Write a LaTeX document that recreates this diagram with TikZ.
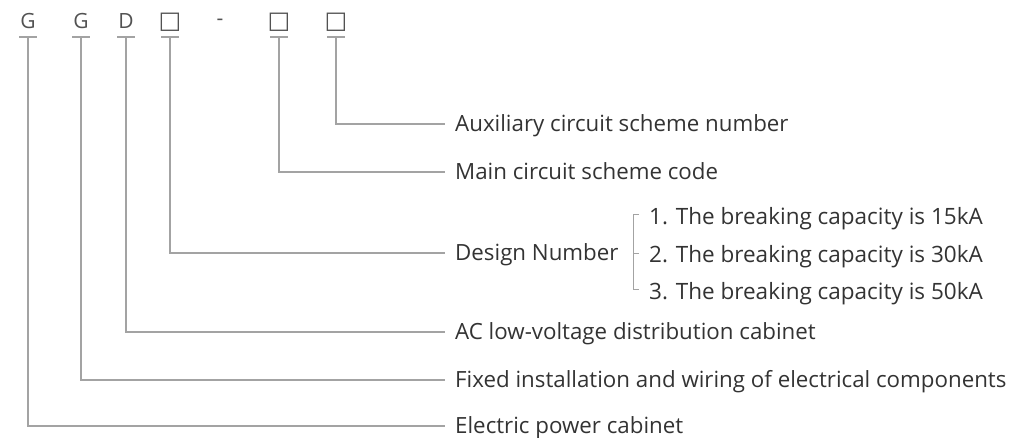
\documentclass[tikz,border=0pt]{standalone}
\usepackage{fontspec}
\setmainfont{Open Sans}
\newfontfamily\symfont{DejaVu Sans}
\definecolor{txt}{HTML}{333333}
\definecolor{lin}{HTML}{A3A3A3}
\begin{document}
\begin{tikzpicture}[x=1pt,y=-1pt,
  code/.style={font=\fontsize{21}{21}\selectfont, text=txt!85, inner sep=0pt},
  boxcode/.style={font=\symfont\fontsize{24}{24}\selectfont, text=txt!85, inner sep=0pt},
  lab/.style={font=\fontsize{22.3}{22.3}\selectfont, text=txt, anchor=west, inner xsep=10pt, inner ysep=0pt, text height=15.9pt, text depth=0pt},
  item/.style={font=\fontsize{22.5}{22.5}\selectfont, text=txt, anchor=west, inner xsep=0pt, inner ysep=0pt, text height=16pt, text depth=0pt},
  conn/.style={draw=lin, line width=1.1pt},
]
\useasboundingbox (0,0) rectangle (1014,438);
% code letters
\node[code] (c1) at (28,21.5) {G};
\node[code] (c2) at (81,21.5) {G};
\node[code] (c3) at (126,21.5) {D};
\node[boxcode] (c4) at (170,22) {□};
\node[code] (cd) at (220,22) {-};
\node[boxcode] (c5) at (279,22) {□};
\node[boxcode] (c6) at (336,22) {□};
% tick coordinates under letters
\foreach \i/\x in {1/28,2/81,3/126,4/170,5/279,6/336}{
  \coordinate (t\i) at (\x,37);
  \draw[conn] ([xshift=-9pt]t\i) -- ([xshift=9pt]t\i);
}
% labels
\node[lab] (l6) at (445,124) {Auxiliary circuit scheme number};
\node[lab] (l5) at (445,172) {Main circuit scheme code};
\node[lab] (l4) at (445,253) {Design Number};
\node[lab] (l3) at (445,332) {AC low-voltage distribution cabinet};
\node[lab] (l2) at (445,380) {Fixed installation and wiring of electrical components};
\node[lab] (l1) at (445,426) {Electric power cabinet};
% connectors
\foreach \i in {1,...,6}{
  \draw[conn] (t\i) |- (l\i.west);
}
% design options
\node[item] (o1) at (649,217) {1. The breaking capacity is 15kA};
\node[item] (o2) at (649,254) {2. The breaking capacity is 30kA};
\node[item] (o3) at (649,291) {3. The breaking capacity is 50kA};
\coordinate (bt) at (633,214);
\coordinate (bm) at (633,253);
\coordinate (bb) at (633,289);
\draw[conn, line width=0.9pt] ([xshift=6pt]bt) -- (bt) -- (bb) -- ([xshift=6pt]bb);
\draw[conn, line width=0.9pt] (bm) -- ([xshift=6pt]bm);
\end{tikzpicture}
\end{document}
